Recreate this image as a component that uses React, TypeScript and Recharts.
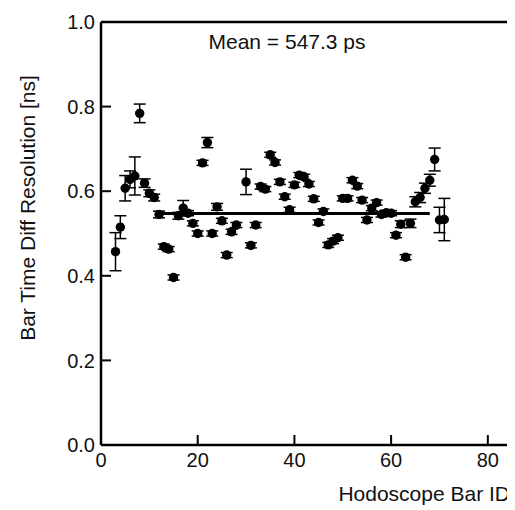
import React from "react";
import {
  ScatterChart,
  Scatter,
  XAxis,
  YAxis,
  ErrorBar,
  ReferenceLine,
} from "recharts";

// Hodoscope bar IDs
const barIds = [
  3, 4, 5, 6, 7, 8, 9, 10, 11, 12, 13, 14, 15, 16, 17, 18, 19, 20, 21, 22, 23,
  24, 25, 26, 27, 28, 30, 31, 32, 33, 34, 35, 36, 37, 38, 39, 40, 41, 42, 43,
  44, 45, 46, 47, 48, 49, 50, 51, 52, 53, 54, 55, 56, 57, 58, 59, 60, 61, 62,
  63, 64, 65, 66, 67, 68, 69, 70, 71,
];
// Time-difference resolution [ns]
const resolutions = [
  0.457, 0.515, 0.607, 0.628, 0.636, 0.784, 0.619, 0.595, 0.585, 0.545, 0.469,
  0.463, 0.396, 0.542, 0.56, 0.548, 0.524, 0.5, 0.667, 0.715, 0.5, 0.563, 0.53,
  0.449, 0.504, 0.52, 0.622, 0.472, 0.52, 0.611, 0.605, 0.686, 0.668, 0.622,
  0.587, 0.556, 0.615, 0.638, 0.634, 0.617, 0.582, 0.526, 0.552, 0.473, 0.482,
  0.49, 0.583, 0.583, 0.626, 0.612, 0.579, 0.532, 0.56, 0.573, 0.545, 0.549,
  0.548, 0.496, 0.522, 0.444, 0.524, 0.575, 0.585, 0.607, 0.626, 0.675, 0.532,
  0.533,
];
// Uncertainties [ns]
const errors = [
  0.045, 0.027, 0.03, 0.02, 0.045, 0.022, 0.01, 0.008, 0.008, 0.008, 0.006,
  0.006, 0.006, 0.008, 0.018, 0.006, 0.006, 0.006, 0.006, 0.012, 0.006, 0.008,
  0.006, 0.006, 0.006, 0.006, 0.03, 0.006, 0.006, 0.006, 0.006, 0.006, 0.006,
  0.006, 0.006, 0.006, 0.006, 0.006, 0.006, 0.006, 0.006, 0.006, 0.006, 0.006,
  0.006, 0.006, 0.006, 0.006, 0.006, 0.006, 0.006, 0.006, 0.006, 0.006, 0.006,
  0.006, 0.006, 0.006, 0.008, 0.006, 0.01, 0.012, 0.012, 0.012, 0.014, 0.027,
  0.03, 0.05,
];
// Outlier point at the axis corner
const outlierIds = [85];
const outlierValues = [0.0];

// Fit (constant mean over bars 12..68)
const fitIds = [12, 68];
const fitValues = [0.5473, 0.5473];
const meanLabel = "Mean = 547.3 ps";
const xLabel = "Hodoscope Bar ID";
const yLabel = "Bar Time Diff Resolution [ns]";

const xTicks = [0, 20, 40, 60, 80];
const yTicks = [0, 0.2, 0.4, 0.6, 0.8, 1.0];
const xDomain = [0, 85];
const yDomain = [0, 1];

const data = barIds.map((id, i) => ({
  id,
  res: resolutions[i],
  err: errors[i],
}));
const outliers = outlierIds.map((id, i) => ({ id, res: outlierValues[i] }));
const fitData = fitIds.map((id, i) => ({ id, res: fitValues[i] }));

const FONT = "'Liberation Sans', Arial, Helvetica, sans-serif";
const TXT = "#111";
const TICK_LEN = 10;
const X_MARGIN = 8;
const Y_MARGIN = 6;

const Dot = (props: any) => (
  <circle cx={props.cx} cy={props.cy} r={4.7} fill="#000" />
);
const NoDot = () => <g />;

const XTick = (props: any) => {
  const { x, y, payload } = props;
  const axisY = y - X_MARGIN;
  return (
    <g>
      <line
        x1={x}
        x2={x}
        y1={axisY}
        y2={axisY - TICK_LEN}
        stroke="#000"
        strokeWidth={2}
      />
      <text
        x={x}
        y={y}
        dy="0.71em"
        textAnchor="middle"
        fill={TXT}
        fontSize={20}
        fontFamily={FONT}
      >
        {payload.value}
      </text>
    </g>
  );
};

const YTick = (props: any) => {
  const { x, y, payload } = props;
  const axisX = x + Y_MARGIN;
  return (
    <g>
      <line
        x1={axisX}
        x2={axisX + TICK_LEN}
        y1={y}
        y2={y}
        stroke="#000"
        strokeWidth={2}
      />
      <text
        x={x}
        y={y}
        dy="0.355em"
        textAnchor="end"
        fill={TXT}
        fontSize={20}
        fontFamily={FONT}
      >
        {Number(payload.value).toFixed(1)}
      </text>
    </g>
  );
};

const textStyle: React.CSSProperties = {
  position: "absolute",
  fontFamily: FONT,
  fontSize: 21,
  lineHeight: "21px",
  color: TXT,
  whiteSpace: "nowrap",
};

export default function App() {
  return (
    <div style={{ position: "relative", width: 507, height: 502 }}>
      <ScatterChart
        width={507}
        height={502}
        margin={{ top: 14, right: 3, bottom: 0, left: 0 }}
      >
        <XAxis
          type="number"
          dataKey="id"
          domain={xDomain}
          ticks={xTicks}
          height={65}
          tickSize={0}
          tickMargin={X_MARGIN}
          axisLine={{ stroke: "#000", strokeWidth: 2.5 }}
          tickLine={false}
          tick={<XTick />}
        />
        <YAxis
          type="number"
          dataKey="res"
          domain={yDomain}
          ticks={yTicks}
          width={93}
          tickSize={0}
          tickMargin={Y_MARGIN}
          axisLine={{ stroke: "#000", strokeWidth: 2.5 }}
          tickLine={false}
          tick={<YTick />}
        />
        <ReferenceLine y={yDomain[1]} stroke="#000" strokeWidth={2.5} />
        <ReferenceLine x={xDomain[1]} stroke="#000" strokeWidth={2.5} />
        <Scatter
          data={fitData}
          line={{ stroke: "#000", strokeWidth: 3 }}
          shape={NoDot}
          isAnimationActive={false}
        />
        <Scatter data={data} shape={Dot} isAnimationActive={false}>
          <ErrorBar
            dataKey="err"
            direction="y"
            width={6}
            stroke="#000"
            strokeWidth={1.5}
            isAnimationActive={false}
          />
        </Scatter>
        <Scatter data={outliers} shape={Dot} isAnimationActive={false} />
      </ScatterChart>
      <div
        style={{
          ...textStyle,
          left: 279,
          top: 33,
          transform: "translate(-50%, -50%)",
        }}
      >
        {meanLabel}
      </div>
      <div
        style={{
          ...textStyle,
          right: 5,
          top: 485,
          transform: "translateY(-50%)",
        }}
      >
        {xLabel}
      </div>
      <div
        style={{
          ...textStyle,
          left: 19,
          top: 200,
          transform: "translate(-50%, -50%) rotate(-90deg)",
        }}
      >
        {yLabel}
      </div>
    </div>
  );
}
